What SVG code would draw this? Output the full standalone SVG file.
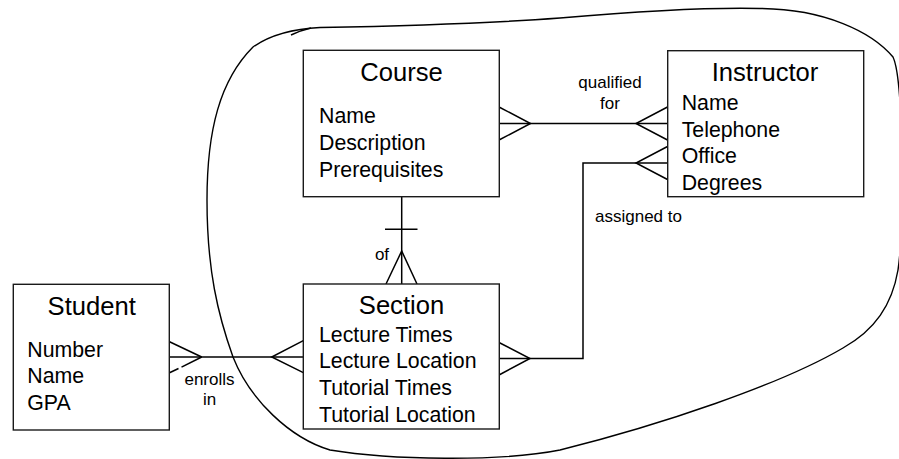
<svg xmlns="http://www.w3.org/2000/svg" width="899" height="459" viewBox="0 0 899 459">
<style>
.box{fill:#fff;stroke:#1a1a1a;stroke-width:1.4}
.ln{fill:none;stroke:#000;stroke-width:1.5}
.blob{fill:none;stroke:#000;stroke-width:1.4}
.title{font-family:"Liberation Sans",Arial,sans-serif;font-size:25.6px;fill:#000;text-anchor:middle}
.attr{font-family:"Liberation Sans",Arial,sans-serif;font-size:21.3px;fill:#000}
.lbl{font-family:"Liberation Sans",Arial,sans-serif;font-size:17px;fill:#000}
</style>
<rect width="899" height="459" fill="#fff"/>
<g id="boundary">
<path class="blob" d="M320 27.5 C400 26 480 24 560 18 C630 12 700 7 760 8.5 C825 9 872 32 893 57 C904 80 904 230 898 270 C892 305 875 330 843 348 C780 385 660 425 560 450 C500 462 390 460 330 450 C290 438 250 400 233 357 C218 315 207 270 207 200 C207 130 220 80 253 47 C270 35 290 29 320 27.5 Z"/>
<path class="blob" d="M291 35 Q300 30.5 311 28"/>
</g>
<g id="connectors">
<line class="ln" x1="499" y1="123.5" x2="667.5" y2="123.5"/>
<polyline class="ln" points="499,107 530.5,123.5 499,140"/>
<polyline class="ln" points="667.5,107 636,123.5 667.5,140"/>
<polyline class="ln" points="667.5,163 583,163 583,358.5 499,358.5"/>
<polyline class="ln" points="667.5,146.5 636,163 667.5,179.5"/>
<polyline class="ln" points="499,342.5 530,358.5 499,375"/>
<line class="ln" x1="401.7" y1="196.7" x2="401.7" y2="284"/>
<line class="ln" x1="385" y1="229.3" x2="417.5" y2="229.3"/>
<polyline class="ln" points="386,284 401.7,251 417,284"/>
<line class="ln" x1="169" y1="357" x2="303.3" y2="357"/>
<line class="ln" x1="169" y1="341.5" x2="201.7" y2="357"/>
<line class="ln" x1="169" y1="373" x2="178.5" y2="368.5"/>
<line class="ln" x1="181.5" y1="367.1" x2="201.7" y2="357"/>
<polyline class="ln" points="303.3,340.7 271.7,357 303.3,372.7"/>
<text class="lbl" x="610" y="88" text-anchor="middle">qualified</text>
<text class="lbl" x="610" y="109" text-anchor="middle">for</text>
<text class="lbl" x="595" y="222">assigned to</text>
<text class="lbl" x="382" y="260" text-anchor="middle">of</text>
<text class="lbl" x="209.5" y="385" text-anchor="middle">enrolls</text>
<text class="lbl" x="209.5" y="405" text-anchor="middle">in</text>
</g>
<g id="course">
<rect class="box" x="303.3" y="50.3" width="196" height="146.4"/>
<text class="title" x="401.5" y="81.3">Course</text>
<text class="attr" x="319" y="123.3">Name</text>
<text class="attr" x="319" y="150">Description</text>
<text class="attr" x="319" y="176.7">Prerequisites</text>
</g>
<g id="instructor">
<rect class="box" x="667.7" y="50.7" width="196" height="146"/>
<text class="title" x="765" y="81">Instructor</text>
<text class="attr" x="681.7" y="110">Name</text>
<text class="attr" x="681.7" y="136.7">Telephone</text>
<text class="attr" x="681.7" y="163.3">Office</text>
<text class="attr" x="681.7" y="189.5">Degrees</text>
</g>
<g id="section">
<rect class="box" x="303.3" y="284" width="196" height="145"/>
<text class="title" x="401.5" y="314">Section</text>
<text class="attr" x="319" y="341.7">Lecture Times</text>
<text class="attr" x="319" y="368.3">Lecture Location</text>
<text class="attr" x="319" y="395">Tutorial Times</text>
<text class="attr" x="319" y="422.3">Tutorial Location</text>
</g>
<g id="student">
<rect class="box" x="13.3" y="284.3" width="156" height="145.7"/>
<text class="title" x="91.7" y="315">Student</text>
<text class="attr" x="27.3" y="356.7">Number</text>
<text class="attr" x="27.3" y="383.3">Name</text>
<text class="attr" x="27.3" y="410">GPA</text>
</g>
</svg>
